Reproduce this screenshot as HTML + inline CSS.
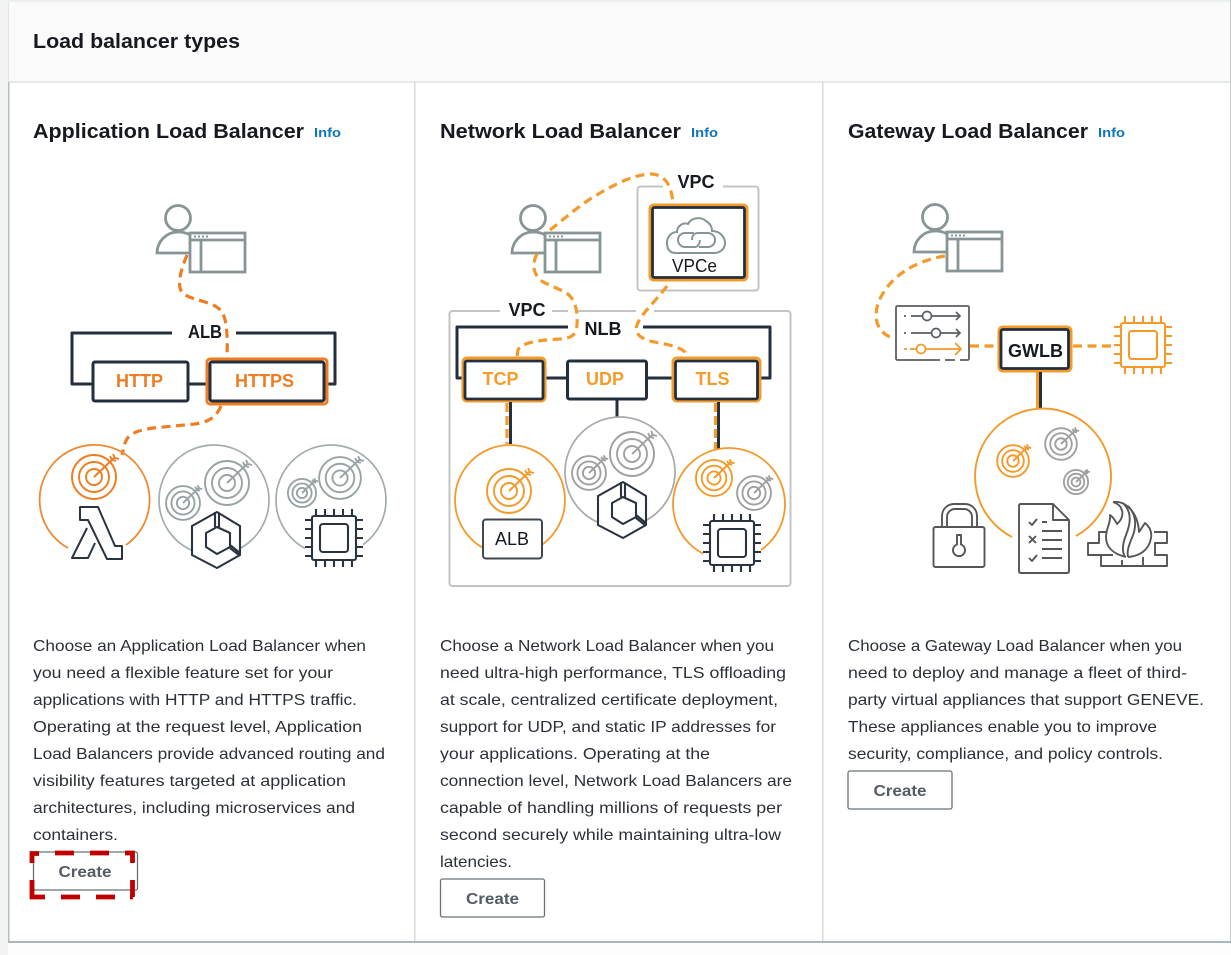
<!DOCTYPE html>
<html><head><meta charset="utf-8"><style>
html,body{margin:0;padding:0;background:#fff;width:1231px;height:955px;overflow:hidden}
svg{display:block;filter:blur(.35px)}
text{font-family:"Liberation Sans",sans-serif}
.b{font-size:16px;fill:#2b3038}
.h{font-size:20px;font-weight:bold;fill:#16191f}
.i{font-size:13px;font-weight:bold;fill:#0f76bb}
.c{font-size:16px;font-weight:bold;fill:#545b64;text-anchor:middle}
.l{font-size:18px;font-weight:bold;text-anchor:middle}
.k{fill:#16191f}
.o{fill:#ee7d22}.a{fill:#f59b2b}
.ds{fill:none;stroke:#ee7d22;stroke-width:3.200;stroke-dasharray:9 5.500}
.da{fill:none;stroke:#f39a2a;stroke-width:3.200;stroke-dasharray:9 5.500}
.w{fill:none;stroke:#232f3e;stroke-width:3}
.bx{fill:#fff;stroke:#232f3e;stroke-width:3}
</style></head><body>
<svg width="1231" height="955" viewBox="0 0 1231 955" xmlns="http://www.w3.org/2000/svg">
<defs>
<g id="person" fill="none" stroke="#879596" stroke-width="2.800">
 <circle cx="0" cy="0" r="12.500"/>
 <path d="M12 35H-21C-21 24-12 14 0 14C5 14 9 15 12 17"/>
 <rect x="12" y="15" width="55" height="39" fill="#fff"/>
 <path d="M12 22H67M23 22V54"/>
 <path d="M16 18.500H30" stroke-width="2" stroke-dasharray="2 2"/>
</g>
<g id="target" fill="none" stroke="currentColor">
 <circle r="22" stroke-width="1.900" vector-effect="non-scaling-stroke"/>
 <circle r="15" stroke-width="1.900" vector-effect="non-scaling-stroke"/>
 <circle r="8" stroke-width="1.900" vector-effect="non-scaling-stroke"/>
 <path d="M0 0L20-19M16-21L18-17L22-16M19-23L21-19L25-18" stroke-width="1.900" vector-effect="non-scaling-stroke"/>
</g>
<g id="chip" fill="none" stroke="currentColor" stroke-width="2.100">
 <rect x="-29" y="-29" width="58" height="58" fill="#fff" stroke="none"/>
 <rect x="-22" y="-22" width="44" height="44" rx="2" fill="#fff"/>
 <rect x="-14" y="-14" width="28" height="28" rx="3"/>
 <path d="M-18-22v-7M-9-22v-7M0-22v-7M9-22v-7M18-22v-7M-18 22v7M-9 22v7M0 22v7M9 22v7M18 22v7M-22-18h-7M-22-9h-7M-22 0h-7M-22 9h-7M-22 18h-7M22-18h7M22-9h7M22 0h7M22 9h7M22 18h7"/>
</g>
<g id="hex" fill="none" stroke="currentColor" stroke-width="2.100" stroke-linejoin="round">
 <path d="M0-28L-25-14V15L0 28L23 15V-14L0-28Z" fill="#fff"/>
 <path d="M-2-28V-13M2-27V-13M0-13L13-7V7L0 14L-11 7V-7ZM13 5L23 13M13 8L22 15"/>
</g>
</defs>

<rect width="1231" height="955" fill="#fff"/>
<rect width="1231" height="82" fill="#fafafa"/>
<rect width="1231" height="2" fill="#eef0f0"/>
<rect y="81" width="1231" height="2" fill="#e6e9e9"/>
<rect y="943" width="1231" height="12" fill="#fdfdfd"/>
<rect width="8" height="955" fill="#f2f3f3"/>
<rect x="8" y="2" width="1" height="80" fill="#e2e5e5"/>
<rect x="8" y="82" width="1.500" height="861" fill="#b5bfc0"/>
<rect x="414" y="82" width="1.500" height="860" fill="#d5dbdb"/>
<rect x="822" y="82" width="1.500" height="860" fill="#d5dbdb"/>
<rect x="1230" y="0" width="1" height="943" fill="#c4cbcc"/>
<rect x="8" y="941" width="1223" height="2" fill="#aab7b8"/>

<text class="h" x="33" y="48" textLength="207" lengthAdjust="spacingAndGlyphs">Load balancer types</text>
<text class="h" x="33" y="138" textLength="271" lengthAdjust="spacingAndGlyphs">Application Load Balancer</text>
<text class="i" x="314" y="137" textLength="27" lengthAdjust="spacingAndGlyphs">Info</text>
<text class="h" x="440" y="138" textLength="241" lengthAdjust="spacingAndGlyphs">Network Load Balancer</text>
<text class="i" x="691" y="137" textLength="27" lengthAdjust="spacingAndGlyphs">Info</text>
<text class="h" x="848" y="138" textLength="240" lengthAdjust="spacingAndGlyphs">Gateway Load Balancer</text>
<text class="i" x="1098" y="137" textLength="27" lengthAdjust="spacingAndGlyphs">Info</text>

<!-- ALB diagram -->
<use href="#person" x="178" y="218"/>
<path class="ds" d="M187 255C183 265 178 278 180 288C182 296 192 298 205 302C218 306 224 310 226 325C228 340 227 350 227 358"/>
<path class="w" stroke-linejoin="round" d="M172 333H72V384H93M236 333H335V384H325M188 384H210"/>
<text class="l k" x="205" y="338" textLength="34" lengthAdjust="spacingAndGlyphs">ALB</text>
<rect class="bx" x="93" y="362" width="95" height="39" rx="2"/>
<rect x="207" y="359" width="120" height="45" rx="3" fill="#fff" stroke="#ee7d22" stroke-width="3"/>
<rect class="bx" x="210" y="362" width="114" height="39" rx="2"/>
<text class="l o" x="139.500" y="387">HTTP</text>
<text class="l o" x="264.500" y="387">HTTPS</text>
<path class="ds" d="M221 406C216 418 208 422 195 424L153 428C135 431 128 434 125 443L122 455"/>
<path d="M68 548A55 55 0 1 1 126 545" fill="none" stroke="#ee8a35" stroke-width="1.800"/>
<use href="#target" transform="translate(94 477)" color="#ee7d22"/>
<path d="M80 507H98L115 546H122V559H107L88 520H80ZM87 528L72 558H88L95 543" fill="#fff" stroke="#2a3340" stroke-width="2" stroke-linejoin="round"/>
<circle cx="214" cy="500" r="55" fill="none" stroke="#a3adae" stroke-width="1.700"/>
<use href="#target" transform="translate(227 483)" color="#99a3a4"/>
<use href="#target" transform="translate(183 503) scale(.77)" color="#99a3a4"/>
<use href="#hex" transform="translate(217 540)" color="#2a3340"/>
<circle cx="331" cy="500" r="55" fill="none" stroke="#a3adae" stroke-width="1.700"/>
<use href="#target" transform="translate(340 478) scale(.95)" color="#99a3a4"/>
<use href="#target" transform="translate(302 493) scale(.64)" color="#99a3a4"/>
<use href="#chip" transform="translate(334 538)" color="#2a3340"/>

<!-- NLB diagram -->
<rect x="449.500" y="311" width="341" height="275" rx="3" fill="none" stroke="#c2c4c4" stroke-width="2"/>
<rect x="500" y="306" width="52" height="10" fill="#fff"/>
<rect x="568" y="306" width="8" height="10" fill="#fff"/>
<rect x="636" y="306" width="18" height="10" fill="#fff"/>
<text class="l k" x="527" y="316">VPC</text>
<rect x="637.500" y="186.500" width="121" height="104" rx="3" fill="#fff" stroke="#c2c4c4" stroke-width="2"/>
<rect x="663" y="181" width="60" height="10" fill="#fff"/>
<text class="l k" x="696" y="188">VPC</text>
<use href="#person" x="533" y="218"/>
<path class="da" d="M550 230C565 218 580 205 595 196C615 184 635 174 652 174C665 175 672 185 673 205"/>
<path class="da" d="M537 254C532 263 532 274 543 282L565 292C575 298 578 310 577 325C576 335 572 338 560 339C540 340 522 342 518 350L517 357"/>
<rect x="650" y="205" width="97" height="75" rx="4" fill="#fff" stroke="#f39a2a" stroke-width="3"/>
<rect x="652.500" y="207.500" width="92" height="70" rx="2" fill="none" stroke="#232f3e" stroke-width="2.800"/>
<path d="M676 253C668 253 667 247 667 243C667 236 672 232 677 232C677 226 683 222 688 224C691 218 700 216 706 221C711 224 712 228 712 231C720 231 725 237 725 243C725 249 720 253 714 253Z" fill="none" stroke="#879596" stroke-width="2"/>
<path d="M694 233H685A7 7 0 0 0 685 247H695C698 247 700 243 700 240M692 240C692 236 694 233 698 233H708A7 7 0 0 1 708 247H699" fill="none" stroke="#879596" stroke-width="2"/>
<text x="694.500" y="272" font-size="18" text-anchor="middle" class="k" textLength="45" lengthAdjust="spacingAndGlyphs">VPCe</text>
<path class="da" d="M667 286C655 302 640 315 637 325C634 333 640 338 650 341C662 344 677 345 685 352L686 357"/>
<path class="w" stroke-linejoin="round" d="M568 327H457V378H462M643 327H770V378H760M546 378H567M647 378H672"/>
<text class="l k" x="603" y="335">NLB</text>
<rect x="463" y="358" width="82" height="43" rx="4" fill="#fff" stroke="#f39a2a" stroke-width="3"/>
<rect x="465" y="361" width="78" height="38" rx="2" fill="none" stroke="#232f3e" stroke-width="2.800"/>
<rect class="bx" x="567.500" y="361" width="79" height="38" rx="2"/>
<rect x="673" y="358" width="87" height="43" rx="4" fill="#fff" stroke="#f39a2a" stroke-width="3"/>
<rect x="675.500" y="361" width="82" height="38" rx="2" fill="none" stroke="#232f3e" stroke-width="2.800"/>
<text class="l a" x="500.500" y="385">TCP</text>
<text class="l a" x="605" y="385">UDP</text>
<text class="l a" x="712.500" y="385">TLS</text>
<path d="M510.500 402V444M718.500 402V449M617 399V418" stroke="#232f3e" stroke-width="3"/>
<path d="M507 403V444M715.500 403V449" stroke="#f39a2a" stroke-width="3.200" stroke-dasharray="9 4"/>
<circle cx="510" cy="500" r="55" fill="none" stroke="#f39a2a" stroke-width="1.800"/>
<use href="#target" transform="translate(509 491)" color="#f39a2a"/>
<rect x="483" y="519.500" width="59" height="39" rx="3" fill="#fff" stroke="#414750" stroke-width="2"/>
<text x="512" y="545" font-size="18" text-anchor="middle" class="k">ALB</text>
<circle cx="620" cy="472" r="55" fill="none" stroke="#a9a9a9" stroke-width="1.700"/>
<use href="#target" transform="translate(632 454)" color="#a0a0a0"/>
<use href="#target" transform="translate(589 473) scale(.77)" color="#a0a0a0"/>
<use href="#hex" transform="translate(623 510)" color="#2a3340"/>
<circle cx="729" cy="504" r="56" fill="none" stroke="#f39a2a" stroke-width="1.800"/>
<use href="#target" transform="translate(714 478) scale(.82)" color="#f39a2a"/>
<use href="#target" transform="translate(754 493) scale(.77)" color="#a0a0a0"/>
<use href="#chip" transform="translate(732 543)" color="#2a3340"/>

<!-- GWLB diagram -->
<use href="#person" x="935" y="217"/>
<path class="da" d="M945 256C920 260 895 272 882 295C872 312 874 332 893 338"/>
<rect x="896" y="306" width="73" height="54" rx="1.500" fill="#fff" stroke="#5a5f63" stroke-width="1.800"/>
<path d="M940 360h5M955 360h5" stroke="#fff" stroke-width="2.500"/>
<g fill="none" stroke="#5a5f63" stroke-width="1.700">
 <path d="M904 316H906M911 316H960M956 312L960 316L956 320M904 333H906M911 333H960M956 329L960 333L956 337"/>
 <circle cx="927" cy="316" r="4.500" fill="#fff"/><circle cx="936" cy="333" r="4.500" fill="#fff"/>
</g>
<g fill="none" stroke="#f39a2a" stroke-width="1.700">
 <path d="M904 349H907M910 349H960M955 343L961 349L955 355"/>
 <circle cx="921" cy="349" r="4.500" fill="#fff"/>
</g>
<path class="da" d="M970 346H998M1073 346H1120" stroke-dasharray="8 5"/>
<rect x="999" y="327" width="72" height="44" rx="4" fill="#fff" stroke="#f39a2a" stroke-width="3"/>
<rect x="1001" y="329.500" width="67.500" height="39" rx="2" fill="none" stroke="#232f3e" stroke-width="2.800"/>
<text class="l k" x="1035.500" y="357">GWLB</text>
<use href="#chip" transform="translate(1143 345)" color="#f39a2a"/>
<path d="M1037.500 372V409" stroke="#f39a2a" stroke-width="3"/>
<path d="M1040.500 372V409" stroke="#232f3e" stroke-width="3"/>
<path d="M1012 537A68 68 0 1 1 1076 536" fill="none" stroke="#f39a2a" stroke-width="1.900"/>
<use href="#target" transform="translate(1013 461) scale(.72)" color="#f39a2a"/>
<use href="#target" transform="translate(1061 444) scale(.72)" color="#a0a0a0"/>
<use href="#target" transform="translate(1076 482) scale(.55)" color="#a0a0a0"/>
<g fill="none" stroke="#555" stroke-width="1.900" stroke-linejoin="round">
 <path d="M942 527V516A12 12 0 0 1 954 504H965A12 12 0 0 1 977 516V527M947 527V517A8 8 0 0 1 955 509H964A8 8 0 0 1 972 517V527"/>
 <rect x="933.500" y="527" width="51" height="40" rx="2" fill="#fff"/>
 <path d="M957 535H961V544.500A6 6 0 1 1 957 544.500Z"/>
 <path d="M1053 504H1021Q1019 504 1019 506V571Q1019 573 1021 573H1067Q1069 573 1069 571V520ZM1053 504V520H1069" fill="#fff"/>
 <path d="M1029 522L1032 525L1037 519M1042 522H1047M1042 531H1062M1029 536L1036 543M1036 536L1029 543M1042 540H1062M1042 549H1062M1029 558L1032 561L1037 555M1042 558H1062"/>
 <path d="M1107 532H1099V543H1088V555H1101V566H1167V555H1155V543H1167V532H1154M1101 555H1113M1122 560V566M1143 557V566"/>
 <path d="M1113 502C1123 505 1126 516 1117 524C1115 520 1113 517 1110 515C1111 523 1106 528 1106 537C1106 547 1113 554 1126 557"/>
 <path d="M1113 502C1125 500 1138 512 1139 532C1141 529 1143 526 1145 523C1150 527 1152 532 1151 538C1149 550 1140 556 1128 557"/>
 <path d="M1123 503C1133 513 1130 525 1126 535C1122 545 1122 552 1125 557M1128 506C1138 516 1136 530 1131 540C1128 548 1127 552 1128 557"/>
</g>

<!-- body copy -->
<g class="b">
<text class="b" x="33" y="651" textLength="333" lengthAdjust="spacingAndGlyphs">Choose an Application Load Balancer when</text>
<text class="b" x="33" y="678" textLength="300" lengthAdjust="spacingAndGlyphs">you need a flexible feature set for your</text>
<text class="b" x="33" y="705" textLength="324" lengthAdjust="spacingAndGlyphs">applications with HTTP and HTTPS traffic.</text>
<text class="b" x="33" y="732" textLength="329" lengthAdjust="spacingAndGlyphs">Operating at the request level, Application</text>
<text class="b" x="33" y="759" textLength="352" lengthAdjust="spacingAndGlyphs">Load Balancers provide advanced routing and</text>
<text class="b" x="33" y="786" textLength="313" lengthAdjust="spacingAndGlyphs">visibility features targeted at application</text>
<text class="b" x="33" y="813" textLength="322" lengthAdjust="spacingAndGlyphs">architectures, including microservices and</text>
<text class="b" x="33" y="840" textLength="85" lengthAdjust="spacingAndGlyphs">containers.</text>

<text class="b" x="440" y="651" textLength="334" lengthAdjust="spacingAndGlyphs">Choose a Network Load Balancer when you</text>
<text class="b" x="440" y="678" textLength="346" lengthAdjust="spacingAndGlyphs">need ultra-high performance, TLS offloading</text>
<text class="b" x="440" y="705" textLength="338" lengthAdjust="spacingAndGlyphs">at scale, centralized certificate deployment,</text>
<text class="b" x="440" y="732" textLength="336" lengthAdjust="spacingAndGlyphs">support for UDP, and static IP addresses for</text>
<text class="b" x="440" y="759" textLength="270" lengthAdjust="spacingAndGlyphs">your applications. Operating at the</text>
<text class="b" x="440" y="786" textLength="352" lengthAdjust="spacingAndGlyphs">connection level, Network Load Balancers are</text>
<text class="b" x="440" y="813" textLength="342" lengthAdjust="spacingAndGlyphs">capable of handling millions of requests per</text>
<text class="b" x="440" y="840" textLength="341" lengthAdjust="spacingAndGlyphs">second securely while maintaining ultra-low</text>
<text class="b" x="440" y="867" textLength="72" lengthAdjust="spacingAndGlyphs">latencies.</text>

<text class="b" x="848" y="651" textLength="334" lengthAdjust="spacingAndGlyphs">Choose a Gateway Load Balancer when you</text>
<text class="b" x="848" y="678" textLength="339" lengthAdjust="spacingAndGlyphs">need to deploy and manage a fleet of third-</text>
<text class="b" x="848" y="705" textLength="356" lengthAdjust="spacingAndGlyphs">party virtual appliances that support GENEVE.</text>
<text class="b" x="848" y="732" textLength="309" lengthAdjust="spacingAndGlyphs">These appliances enable you to improve</text>
<text class="b" x="848" y="759" textLength="315" lengthAdjust="spacingAndGlyphs">security, compliance, and policy controls.</text>
</g>

<!-- buttons -->
<rect x="33.500" y="852" width="104" height="38" rx="2" fill="#fff" stroke="#687078" stroke-width="1.300"/>
<text class="c" x="85" y="877" textLength="53" lengthAdjust="spacingAndGlyphs">Create</text>
<path d="M32 863V853.500H39M55 853H74M90 853H109M125 853H132.500V863M132.500 880V897M130 897H133M115 897H96M80 897H61M45 897H32V880" fill="none" stroke="#c00000" stroke-width="4.800"/>
<rect x="440.500" y="879" width="104" height="38" rx="2" fill="#fff" stroke="#687078" stroke-width="1.300"/>
<text class="c" x="492.500" y="904" textLength="53" lengthAdjust="spacingAndGlyphs">Create</text>
<rect x="848" y="771" width="104" height="38" rx="2" fill="#fff" stroke="#687078" stroke-width="1.300"/>
<text class="c" x="900" y="796" textLength="53" lengthAdjust="spacingAndGlyphs">Create</text>
</svg>
</body></html>
